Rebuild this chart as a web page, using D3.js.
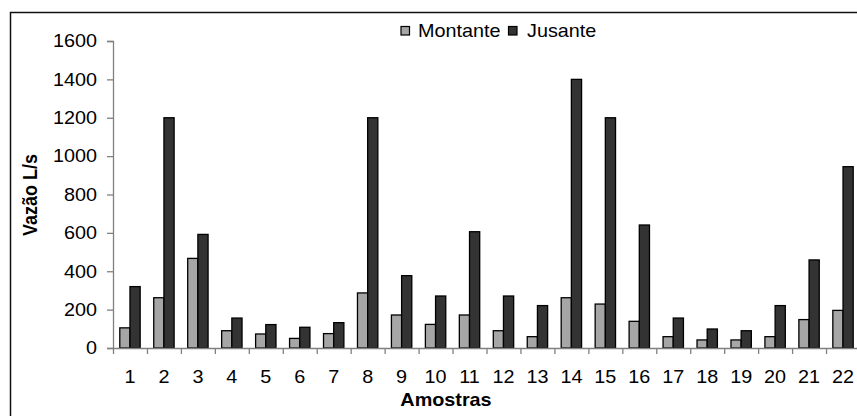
<!DOCTYPE html>
<html>
<head>
<meta charset="utf-8">
<script src="https://cdn.jsdelivr.net/npm/d3@7"></script>
<style>
  html, body { margin: 0; padding: 0; background: #fff; }
  svg { display: block; font-family: "Liberation Sans", Arial, sans-serif; }
</style>
</head>
<body>
<svg id="chart" width="857" height="416"></svg>
<script>
// Sample numbers (Amostras)
const categories = ["1","2","3","4","5","6","7","8","9","10","11","12","13","14","15","16","17","18","19","20","21","22"];
// Flow (L/s) upstream
const montante = [105, 262, 467, 90, 73, 50, 75, 287, 172, 123, 172, 90, 59, 262, 229, 139, 59, 42, 42, 59, 148, 196];
// Flow (L/s) downstream
const jusante = [320, 1200, 592, 156, 122, 108, 132, 1200, 377, 271, 606, 271, 221, 1400, 1200, 641, 156, 99, 90, 221, 459, 945];
const yTicks = [0, 200, 400, 600, 800, 1000, 1200, 1400, 1600];
const seriesNames = ["Montante", "Jusante"];
const seriesColors = ["#a6a6a6", "#333333"];

const svg = d3.select("#chart");
const SX = 1.1;               // horizontal text stretch
const plotL = 113, plotR = 860, plotT = 41, plotB = 348;

// Outer frame
svg.append("rect")
  .attr("x", 10.5).attr("y", 12.5)
  .attr("width", 870).attr("height", 430)
  .attr("fill", "none").attr("stroke", "#111").attr("stroke-width", 1.5);

const x = d3.scaleBand().domain(categories).range([plotL, plotR]).paddingInner(0).paddingOuter(0);
const xEdge = d3.scaleLinear().domain([0, categories.length]).range([plotL, plotR]);
const y = d3.scaleLinear().domain([0, 1600]).range([plotB, plotT]);

const barW = x.bandwidth() * 0.3;
const off = x.bandwidth() * 0.2;

// Bars
const data = categories.map((c, i) => ({ c, v: [montante[i], jusante[i]] }));
const g = svg.append("g");
data.forEach(d => {
  d.v.forEach((v, s) => {
    g.append("rect")
      .attr("x", x(d.c) + off + s * barW)
      .attr("y", y(v))
      .attr("width", barW)
      .attr("height", y(0) - y(v))
      .attr("fill", seriesColors[s])
      .attr("stroke", "#000")
      .attr("stroke-width", 1.3);
  });
});

// Y axis
const yAxis = svg.append("g")
  .attr("transform", `translate(${plotL},0)`)
  .call(d3.axisLeft(y).tickValues(yTicks).tickSize(6).tickPadding(10).tickFormat(d3.format("d")));
yAxis.select(".domain").attr("stroke", "#808080").attr("stroke-width", 1.3);
yAxis.selectAll(".tick line").attr("stroke", "#808080").attr("stroke-width", 1.3);
yAxis.selectAll(".tick text")
  .attr("font-size", 18).attr("fill", "#000")
  .attr("x", -16 / SX)
  .attr("transform", `scale(${SX},1)`);

// X axis: tick marks on band edges
const xTickAxis = svg.append("g")
  .attr("transform", `translate(0,${plotB})`)
  .call(d3.axisBottom(xEdge).tickValues(d3.range(0, categories.length + 1)).tickSize(6).tickSizeOuter(0).tickFormat(""));
xTickAxis.select(".domain").attr("stroke", "#808080").attr("stroke-width", 1.3);
xTickAxis.selectAll(".tick line").attr("stroke", "#808080").attr("stroke-width", 1.3);

// X axis: category labels centred in bands
const xLab = svg.append("g")
  .attr("transform", `translate(0,${plotB})`)
  .call(d3.axisBottom(x).tickSize(0).tickPadding(22));
xLab.select(".domain").remove();
xLab.selectAll(".tick text")
  .attr("font-size", 18).attr("fill", "#000")
  .attr("transform", `scale(${SX},1)`);

// Axis titles
svg.append("text")
  .attr("transform", `translate(446,406) scale(${SX},1)`)
  .attr("text-anchor", "middle")
  .attr("font-size", 18).attr("font-weight", "bold")
  .text("Amostras");

svg.append("text")
  .attr("transform", `translate(37,195) rotate(-90) scale(1,${SX})`)
  .attr("text-anchor", "middle")
  .attr("font-size", 18).attr("font-weight", "bold")
  .text("Vazão L/s");

// Legend
const legendItems = [{ x: 401, tx: 418 }, { x: 508.5, tx: 527 }];
legendItems.forEach((p, i) => {
  svg.append("rect")
    .attr("x", p.x).attr("y", 26.5).attr("width", 8.5).attr("height", 8.5)
    .attr("fill", seriesColors[i]).attr("stroke", "#000").attr("stroke-width", 1.2);
  svg.append("text")
    .attr("transform", `translate(${p.tx},37) scale(${SX},1)`)
    .attr("font-size", 18)
    .text(seriesNames[i]);
});
</script>
</body>
</html>
